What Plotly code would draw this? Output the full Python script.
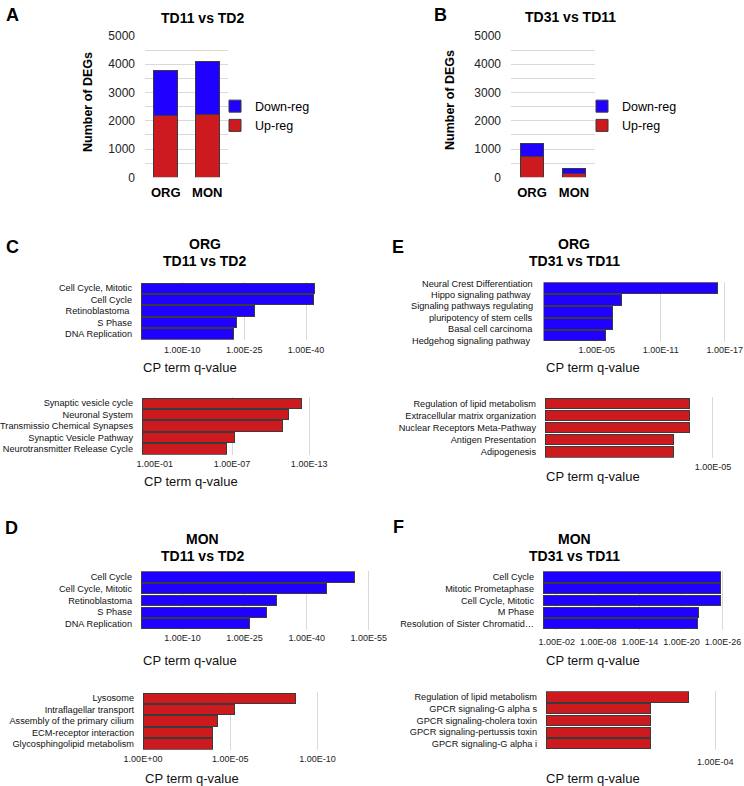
import plotly.graph_objects as go

W, H = 744, 786
FONT = "Liberation Sans, Arial, sans-serif"
BLUE = "#2000ff"
RED = "#cc1a1f"
OUTLINE = "#3a3a3a"
GRID = "#d9d9d9"
LABEL_SIZE = 9.2

# ---------------- data ----------------
groups = ["ORG", "MON"]
a_up = [2180, 2230]
a_down = [1605, 1885]
b_up = [730, 130]
b_down = [450, 175]
deg_ticks = [0, 1000, 2000, 3000, 4000, 5000]

c_blue_terms = ["Cell Cycle, Mitotic", "Cell Cycle", "Retinoblastoma ", "S Phase", "DNA Replication"]
c_blue_vals = [42.1, 41.9, 27.6, 23.2, 22.3]
c_blue_tickvals = [10, 25, 40]
c_blue_ticktext = ["1.00E-10", "1.00E-25", "1.00E-40"]

c_red_terms = ["Synaptic vesicle cycle", "Neuronal System", "Transmissio Chemical Synapses",
               "Synaptic Vesicle Pathway", "Neurotransmitter Release Cycle"]
c_red_vals = [12.44, 11.43, 10.9, 7.23, 6.6]
c_red_tickvals = [1, 7, 13]
c_red_ticktext = ["1.00E-01", "1.00E-07", "1.00E-13"]

d_blue_terms = ["Cell Cycle", "Cell Cycle, Mitotic", "Retinoblastoma", "S Phase", "DNA Replication"]
d_blue_vals = [51.6, 44.8, 32.8, 30.4, 26.3]
d_blue_tickvals = [10, 25, 40, 55]
d_blue_ticktext = ["1.00E-10", "1.00E-25", "1.00E-40", "1.00E-55"]

d_red_terms = ["Lysosome", "Intraflagellar transport", "Assembly of the primary cilium",
               "ECM-receptor interaction", "Glycosphingolipid metabolism"]
d_red_vals = [8.76, 5.27, 4.24, 4.0, 4.0]
d_red_tickvals = [0, 5, 10]
d_red_ticktext = ["1.00E+00", "1.00E-05", "1.00E-10"]

e_blue_terms = ["Neural Crest Differentiation", "Hippo signaling pathway",
                "Signaling pathways regulating pluripotency of stem cells",
                "Basal cell carcinoma", "Hedgehog signaling pathway"]
# the reference prints these term names as six evenly spaced lines
e_blue_label_lines = ["Neural Crest Differentiation", "Hippo signaling pathway ",
                      "Signaling pathways regulating", "pluripotency of stem cells",
                      "Basal cell carcinoma", "Hedgehog signaling pathway "]
e_blue_vals = [16.35, 7.36, 6.5, 6.5, 5.86]
e_blue_tickvals = [5, 11, 17]
e_blue_ticktext = ["1.00E-05", "1.00E-11", "1.00E-17"]

e_red_terms = ["Regulation of lipid metabolism", "Extracellular matrix organization",
               "Nuclear Receptors Meta-Pathway", "Antigen Presentation", "Adipogenesis"]
e_red_vals = [4.29, 4.29, 4.29, 3.84, 3.84]
e_red_tickvals = [5]
e_red_ticktext = ["1.00E-05"]

f_blue_terms = ["Cell Cycle", "Mitotic Prometaphase", "Cell Cycle, Mitotic", "M Phase",
                "Resolution of Sister Chromatid…"]
f_blue_vals = [25.7, 25.7, 25.7, 22.5, 22.3]
f_blue_tickvals = [2, 8, 14, 20, 26]
f_blue_ticktext = ["1.00E-02", "1.00E-08", "1.00E-14", "1.00E-20", "1.00E-26"]

f_red_terms = ["Regulation of lipid metabolism", "GPCR signaling-G alpha s",
               "GPCR signaling-cholera toxin", "GPCR signaling-pertussis toxin",
               "GPCR signaling-G alpha i"]
f_red_vals = [3.36, 2.46, 2.46, 2.46, 2.46]
f_red_tickvals = [4]
f_red_ticktext = ["1.00E-04"]


def X(px):
    return px / W


def Y(py):
    return 1 - py / H


fig = go.Figure()
layout = {}
annotations = []


def ann(text, x, y, size, bold=False, xanchor="center", angle=0, color="#000"):
    annotations.append(dict(text=f"<b>{text}</b>" if bold else text, x=X(x), y=Y(y),
                            xref="paper", yref="paper", xanchor=xanchor, yanchor="middle",
                            showarrow=False, textangle=angle,
                            font=dict(family=FONT, size=size, color=color)))


# ---------------- stacked DEG bars (A, B) ----------------
def deg_panel(i, up, down, x0, x1, legend_name, legend_x):
    xa, ya = f"x{i}", f"y{i}"
    fig.add_trace(go.Bar(x=groups, y=up, name="Up-reg", marker=dict(color=RED, line=dict(color=OUTLINE, width=1)),
                         width=0.57, xaxis=xa, yaxis=ya, legend=legend_name))
    fig.add_trace(go.Bar(x=groups, y=down, name="Down-reg", marker=dict(color=BLUE, line=dict(color=OUTLINE, width=1)),
                         width=0.57, xaxis=xa, yaxis=ya, legend=legend_name))
    layout[f"xaxis{i}"] = dict(domain=[X(x0), X(x1)], anchor=ya, type="category",
                               tickvals=groups, ticktext=[f"<b>{g}</b>" for g in groups],
                               tickfont=dict(family=FONT, size=13, color="#000"),
                               showgrid=False, showline=False, ticks="", ticklabelstandoff=6,
                               automargin=False)
    layout[f"yaxis{i}"] = dict(domain=[Y(177.3), Y(36)], anchor=xa, range=[0, 5000],
                               tickvals=deg_ticks, tickfont=dict(family=FONT, size=12, color="#222"),
                               showgrid=True, gridcolor=GRID, gridwidth=1, zeroline=False,
                               minor=dict(dtick=500, showgrid=True, gridcolor=GRID, ticks=""),
                               ticks="", ticklabelstandoff=9, automargin=False)
    layout["legend" if legend_name == "legend" else legend_name] = dict(
        x=X(legend_x), y=Y(116), xanchor="left", yanchor="middle", traceorder="reversed",
        font=dict(family=FONT, size=12.5, color="#000"), bgcolor="rgba(0,0,0,0)",
        tracegroupgap=0, itemwidth=30)


deg_panel(1, a_up, a_down, 145, 228, "legend", 215)
deg_panel(2, b_up, b_down, 511, 595, "legend2", 582)


# ---------------- horizontal CP term bars ----------------
def hpanel(i, terms, vals, color, x0, x1, y0, y1, xmax, tickvals, ticktext, standoff, show_labels=True):
    xa, ya = f"x{i}", f"y{i}"
    fig.add_trace(go.Bar(y=terms, x=vals, orientation="h",
                         marker=dict(color=color, line=dict(color=OUTLINE, width=1)),
                         width=0.88, xaxis=xa, yaxis=ya, showlegend=False))
    s = (y1 - y0) / 4.88
    layout[f"xaxis{i}"] = dict(domain=[X(x0), X(x1)], anchor=ya, range=[0, xmax],
                               tickvals=tickvals, ticktext=ticktext,
                               tickfont=dict(family=FONT, size=9, color="#222"),
                               showgrid=True, gridcolor=GRID, gridwidth=1, zeroline=False,
                               showline=False, ticks="", ticklabelstandoff=standoff,
                               automargin=False)
    layout[f"yaxis{i}"] = dict(domain=[Y(y1 + 0.06 * s), Y(y0 - 0.06 * s)], anchor=xa,
                               type="category", autorange="reversed", showgrid=False,
                               tickmode="array", tickvals=terms, ticktext=terms,
                               showticklabels=show_labels,
                               showline=False, ticks="", ticklabelstandoff=8, automargin=False,
                               tickfont=dict(family=FONT, size=LABEL_SIZE, color="#111"))


hpanel(3, c_blue_terms, c_blue_vals, BLUE, 141, 368, 283, 339, 55, c_blue_tickvals, c_blue_ticktext, 3)
hpanel(4, c_red_terms, c_red_vals, RED, 142, 322, 398, 454, 14, c_red_tickvals, c_red_ticktext, 2)
hpanel(5, d_blue_terms, d_blue_vals, BLUE, 141, 373, 572, 629, 56, d_blue_tickvals, d_blue_ticktext, 1)
hpanel(6, d_red_terms, d_red_vals, RED, 143, 335, 693, 749, 11, d_red_tickvals, d_red_ticktext, 2)
hpanel(7, e_blue_terms, e_blue_vals, BLUE, 543.5, 730, 283, 341, 17.5, e_blue_tickvals, e_blue_ticktext, 1,
       show_labels=False)
hpanel(8, e_red_terms, e_red_vals, RED, 545, 723, 398, 457, 5.3, e_red_tickvals, e_red_ticktext, 2)
hpanel(9, f_blue_terms, f_blue_vals, BLUE, 543, 725, 572, 629, 26.3, f_blue_tickvals, f_blue_ticktext, 5)
hpanel(10, f_red_terms, f_red_vals, RED, 546, 728, 692, 749, 4.3, f_red_tickvals, f_red_ticktext, 5)

# E (blue) term names laid out as in the reference: six lines spread over the five bars
for k, line in enumerate(e_blue_label_lines):
    ann(line, 535, 283.5 + k * 11.4, LABEL_SIZE, xanchor="right", color="#111")

# ---------------- text ----------------
for letter, x, y in [("A", 12, 15), ("B", 440, 15), ("C", 12, 247), ("D", 11, 528), ("E", 398, 247), ("F", 398, 527)]:
    ann(letter, x, y, 18, bold=True)

ann("TD11 vs TD2", 202, 18, 14, bold=True)
ann("TD31 vs TD11", 570, 17, 14, bold=True)
ann("Number of DEGs", 88, 102, 12.5, bold=True, angle=-90)
ann("Number of DEGs", 450, 100, 12.5, bold=True, angle=-90)

for top, sub, x, y in [("ORG", "TD11 vs TD2", 205, 244), ("MON", "TD11 vs TD2", 202, 539),
                       ("ORG", "TD31 vs TD11", 574, 244), ("MON", "TD31 vs TD11", 574, 539)]:
    ann(top, x, y, 14, bold=True)
    ann(sub, x, y + 17, 14, bold=True)

for x, y in [(141, 367), (142, 481), (141, 660), (143, 778), (544, 367), (544, 477), (544, 660), (544, 778)]:
    ann("CP term q-value", x, y, 13, xanchor="left", color="#111")

layout.update(dict(width=W, height=H, margin=dict(l=0, r=0, t=0, b=0, autoexpand=False), barmode="stack",
                   plot_bgcolor="white", paper_bgcolor="white", annotations=annotations,
                   font=dict(family=FONT)))
fig.update_layout(**layout)
fig.write_html("out.html", config={"displayModeBar": False},
               post_script="document.body.style.margin='0px';")
